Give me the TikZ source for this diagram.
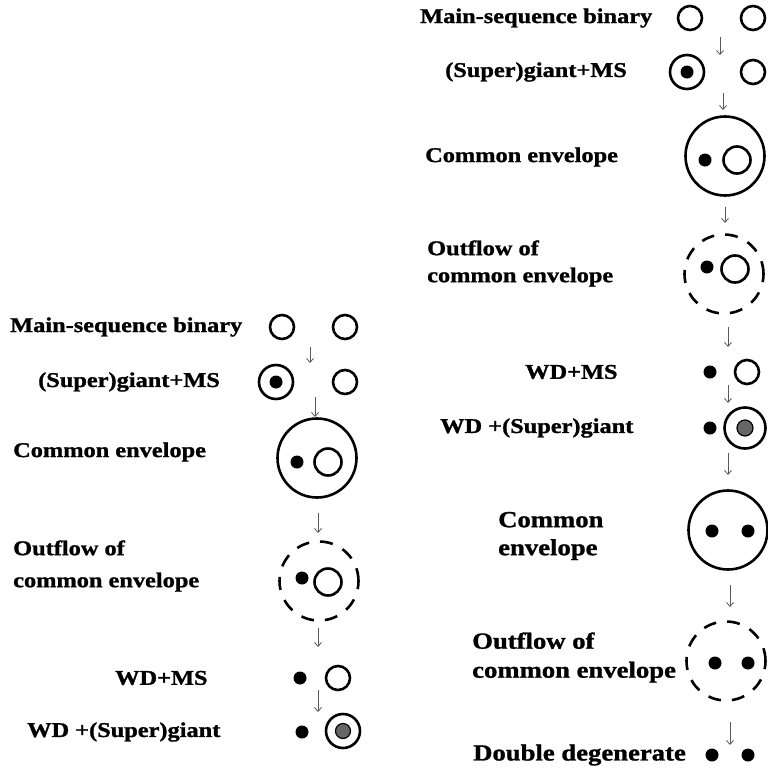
\documentclass[tikz,border=0pt]{standalone}
\usepackage{fontspec}
\setmainfont{Liberation Serif}[FakeStretch=1.16,BoldFeatures={FakeBold=1.2}]
\usepackage{tikz}
\usetikzlibrary{arrows.meta}

\tikzset{
	lbl/.style={anchor=west,inner sep=0pt,align=left,font=\fontsize{21}{29}\selectfont\bfseries},
	lblbig/.style={lbl,font=\fontsize{23}{29}\selectfont\bfseries},
	ms/.style={circle,draw,line width=2.6pt,minimum size=24pt,inner sep=0pt},
	msbig/.style={circle,draw,line width=2.6pt,minimum size=27pt,inner sep=0pt},
	giant/.style={circle,draw,line width=2.6pt,minimum size=34pt,inner sep=0pt},
	core/.style={circle,fill=black,minimum size=13pt,inner sep=0pt},
	hecore/.style={circle,draw,line width=1.2pt,fill=black!60,minimum size=15pt,inner sep=0pt},
	wd/.style={circle,fill=black,minimum size=13pt,inner sep=0pt},
	envl/.style={circle,draw,line width=2.6pt,minimum size=79pt,inner sep=0pt},
	outfl/.style={envl,dash pattern=on 13pt off 11pt},
	flow/.style={draw=black!65,line width=0.8pt,-{Straight Barb[length=4pt,width=7pt]}}
}

\begin{document}
\begin{tikzpicture}[x=1pt,y=-1pt]
							\useasboundingbox (0,0) rectangle (768,769);
							\clip (0,0) rectangle (768,769);
							% 左列：文字
							\node[lbl] (tL1) at (10,327) {Main-sequence binary};
							\node[lbl] (tL2) at (38,382) {(Super)giant+MS};
							\node[lbl] (tL3) at (13,452) {Common envelope};
							\node[lbl,font=\fontsize{21}{32}\selectfont\bfseries] (tL4) at (13,566) {Outflow of\\common envelope};
							\node[lbl] (tL5) at (115,678) {WD+MS};
							\node[lbl] (tL6) at (27,732) {WD +(Super)giant};
							% 左列：双星
							\node[ms] (L1a) at (282,327) {};
							\node[ms] (L1b) at (345,327) {};
							\node[giant] (L2a) at (276,382) {};
							\node[core] (L2c) at (L2a) {};
							\node[ms] (L2b) at (345,382) {};
							\node[envl] (L3e) at (317,458) {};
							\node[wd] (L3a) at (297,462) {};
							\node[msbig] (L3b) at (328,462) {};
							\node[outfl] (L4e) at (319,581) {};
							\node[wd] (L4a) at (302,578) {};
							\node[msbig] (L4b) at (328,582) {};
							\node[wd] (L5a) at (300,678) {};
							\node[ms] (L5b) at (338,678) {};
							\node[wd] (L6a) at (302,732) {};
							\node[giant] (L6b) at (343,731) {};
							\node[hecore] (L6c) at (L6b) {};
							% 左列：箭头
							\coordinate (sL1) at (310,347); \coordinate (eL1) at (310,363);
							\coordinate (sL2) at (315,397); \coordinate (eL2) at (315,417);
							\coordinate (sL3) at (318,513); \coordinate (eL3) at (318,533);
							\coordinate (sL4) at (318,628); \coordinate (eL4) at (318,647);
							\coordinate (sL5) at (318,690); \coordinate (eL5) at (318,712);
							\draw[flow] (sL1) -- (eL1);
							\draw[flow] (sL2) -- (eL2);
							\draw[flow] (sL3) -- (eL3);
							\draw[flow] (sL4) -- (eL4);
							\draw[flow] (sL5) -- (eL5);
							% 右列：文字
							\node[lbl] (tR1) at (420,18) {Main-sequence binary};
							\node[lbl] (tR2) at (445,72) {(Super)giant+MS};
							\node[lbl] (tR3) at (425,157) {Common envelope};
							\node[lbl,font=\fontsize{21}{27}\selectfont\bfseries] (tR4) at (427,263.5) {Outflow of\\common envelope};
							\node[lbl] (tR5) at (525,372) {WD+MS};
							\node[lbl] (tR6) at (440,428) {WD +(Super)giant};
							\node[lblbig,font=\fontsize{23}{28}\selectfont\bfseries] (tR7) at (498,536) {Common\\envelope};
							\node[lblbig] (tR8) at (472,657.5) {Outflow of\\common envelope};
							\node[lblbig] (tR9) at (473,755) {Double degenerate};
							% 右列：双星
							\node[ms] (R1a) at (690,18) {};
							\node[ms] (R1b) at (753,18) {};
							\node[giant] (R2a) at (687,72) {};
							\node[core] (R2c) at (R2a) {};
							\node[ms] (R2b) at (753,72) {};
							\node[envl] (R3e) at (725,156) {};
							\node[wd] (R3a) at (705,160) {};
							\node[msbig] (R3b) at (737,160) {};
							\node[outfl] (R4e) at (724,274) {};
							\node[wd] (R4a) at (707,267) {};
							\node[msbig] (R4b) at (735,269) {};
							\node[wd] (R5a) at (710,372) {};
							\node[ms] (R5b) at (747,372) {};
							\node[wd] (R6a) at (710,428) {};
							\node[giant,minimum size=41pt] (R6b) at (745,428) {};
							\node[hecore,minimum size=16pt] (R6c) at (R6b) {};
							\node[envl] (R7e) at (728,530) {};
							\node[wd] (R7a) at (712,531) {};
							\node[wd] (R7b) at (748,531) {};
							\node[outfl] (R8e) at (726,661) {};
							\node[wd] (R8a) at (715,663) {};
							\node[wd] (R8b) at (748,663) {};
							\node[wd] (R9a) at (712,755) {};
							\node[wd] (R9b) at (748,755) {};
							% 右列：箭头
							\coordinate (sR1) at (720,37); \coordinate (eR1) at (720,55);
							\coordinate (sR2) at (723,93); \coordinate (eR2) at (723,110);
							\coordinate (sR3) at (725,207); \coordinate (eR3) at (725,223);
							\coordinate (sR4) at (728,327); \coordinate (eR4) at (728,347);
							\coordinate (sR5) at (728,385); \coordinate (eR5) at (728,403);
							\coordinate (sR6) at (728,453); \coordinate (eR6) at (728,475);
							\coordinate (sR7) at (730,585); \coordinate (eR7) at (730,607);
							\coordinate (sR8) at (730,722); \coordinate (eR8) at (730,745);
							\draw[flow] (sR1) -- (eR1);
							\draw[flow] (sR2) -- (eR2);
							\draw[flow] (sR3) -- (eR3);
							\draw[flow] (sR4) -- (eR4);
							\draw[flow] (sR5) -- (eR5);
							\draw[flow] (sR6) -- (eR6);
							\draw[flow] (sR7) -- (eR7);
							\draw[flow] (sR8) -- (eR8);
						\end{tikzpicture}
\end{document}
